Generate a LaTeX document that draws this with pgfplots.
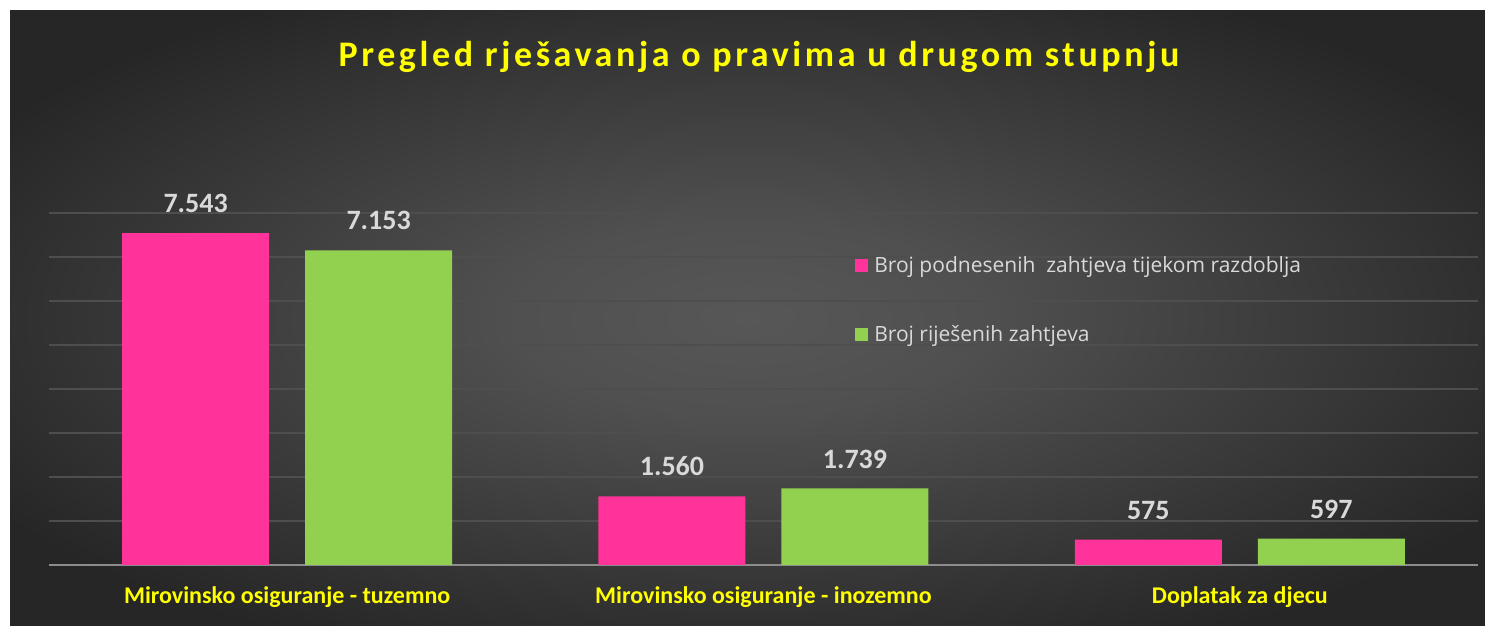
\documentclass[border=0pt]{standalone}
\usepackage{pgfplots}
\pgfplotsset{compat=1.18}
\usepackage{fontspec}
\setmainfont{Carlito}
\newfontfamily\titlefont[LetterSpace=10]{Carlito}
\newfontfamily\legfont{Open Sans}

\definecolor{pinkbar}{HTML}{FF3399}
\definecolor{greenbar}{HTML}{92D050}
\definecolor{ttl}{HTML}{FFFF00}
\definecolor{lbl}{HTML}{D9D9D9}
\definecolor{gridc}{HTML}{4E4E4E}
\definecolor{axisc}{HTML}{8C8C8C}
\definecolor{bgin}{HTML}{575757}
\definecolor{bgout}{HTML}{262626}

\pgfdeclareradialshading{bgshade}{\pgfpoint{0bp}{0bp}}{color(0bp)=(bgin); color(8bp)=(bgin!85!bgout); color(30bp)=(bgout); color(50bp)=(bgout)}

\begin{document}
\begin{tikzpicture}[x=1pt,y=1pt]
\fill[white] (0,0) rectangle (1485,626);
\shade[shading=bgshade] (10,0) rectangle (1485,615);
\node[font=\titlefont\bfseries\fontsize{36}{36}\selectfont, text=ttl] at (759,569) {Pregled rješavanja o pravima u drugom stupnju};
\begin{axis}[
  at={(49pt,61pt)}, anchor=south west,
  width=1429pt, height=352pt, scale only axis,
  xmin=-0.5, xmax=2.5, ymin=0, ymax=8000,
  axis x line*=bottom, axis y line*=left,
  y axis line style={draw=none},
  x axis line style={draw=axisc, line width=2pt, -},
  ytick={1000,2000,...,8000}, yticklabels={},
  ymajorgrids, grid style={draw=gridc, line width=1.3pt},
  major tick length=0pt,
  xtick={0,1,2},
  xticklabels={Mirovinsko osiguranje - tuzemno, Mirovinsko osiguranje - inozemno, Doplatak za djecu},
  xticklabel style={font=\bfseries\fontsize{24}{24}\selectfont, text=ttl, anchor=north, inner sep=0pt, yshift=-21pt},
  ybar, bar width=147pt,
  nodes near coords={\pgfmathprintnumber[1000 sep={.}, assume math mode=true]{\pgfplotspointmeta}},
  nodes near coords style={font=\bfseries\fontsize{28}{28}\selectfont, text=lbl, anchor=south, inner sep=0pt, yshift=20pt},
  legend style={at={(0.562,0.887)}, anchor=north west, draw=none, fill=none, text=lbl,
    font=\legfont\fontsize{21}{21}\selectfont, row sep=47pt, legend cell align=left},
  legend image code/.code={\fill[#1] (0pt,-6.5pt) rectangle (13pt,6.5pt); \path (17pt,0pt);},
]
\addplot[fill=pinkbar, draw=none, bar shift=-91.5pt] coordinates {(0,7543) (1,1560) (2,575)};
\addplot[fill=greenbar, draw=none, bar shift=91.5pt] coordinates {(0,7153) (1,1739) (2,597)};
\legend{Broj podnesenih\ \ zahtjeva tijekom razdoblja, Broj riješenih zahtjeva}
\end{axis}
\end{tikzpicture}
\end{document}
